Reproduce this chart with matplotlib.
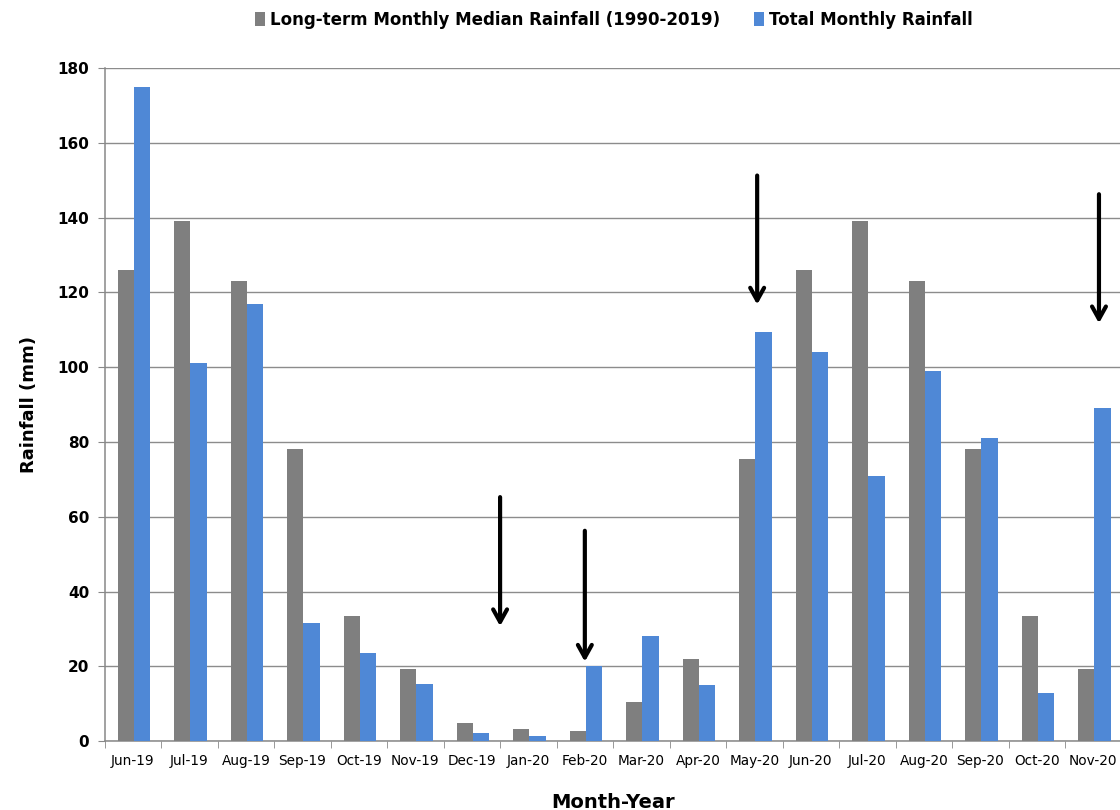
import numpy as np
import matplotlib
matplotlib.use("Agg")
import matplotlib.pyplot as plt
from matplotlib.ticker import FixedLocator

# data
months = ["Jun-19", "Jul-19", "Aug-19", "Sep-19", "Oct-19", "Nov-19", "Dec-19", "Jan-20", "Feb-20",
          "Mar-20", "Apr-20", "May-20", "Jun-20", "Jul-20", "Aug-20", "Sep-20", "Oct-20", "Nov-20"]
median_rain = [126, 139, 123, 78, 33.4, 19.3, 4.8, 3.2, 2.8, 10.5, 22, 75.5, 126, 139, 123, 78, 33.4, 19.3]
total_rain = [175, 101, 117, 31.5, 23.5, 15.2, 2.3, 1.5, 20, 28, 15, 109.5, 104, 71, 99, 81, 13, 89]
yticks = [0, 20, 40, 60, 80, 100, 120, 140, 160, 180]

# arrows: (x position in category units, tail value, head value)
arrow_x = [6.5, 8, 11.05, 17.1]
arrow_top = [66, 57, 152, 147]
arrow_tip = [30, 20.5, 116, 111]

grey = "#7f7f7f"
blue = "#4f88d6"

fig = plt.figure(figsize=(11.2, 8.1), dpi=100)
ax = fig.add_axes([0.0934, 0.085, 0.908, 0.831])

x = np.arange(len(months))
w = 0.29
ax.bar(x - w / 2 + 0.02, median_rain, w, color=grey, label="Long-term Monthly Median Rainfall (1990-2019)", zorder=3)
ax.bar(x + w / 2 + 0.02, total_rain, w, color=blue, label="Total Monthly Rainfall", zorder=3)

for xa, yt, yh in zip(arrow_x, arrow_top, arrow_tip):
    ax.annotate("", xy=(xa, yh), xytext=(xa, yt),
                arrowprops=dict(arrowstyle="->,head_length=0.9,head_width=0.5", color="black", lw=3),
                zorder=5)

ax.set_xlim(-0.5, 17.5)
ax.set_ylim(0, 180)
ax.set_yticks(yticks)
ax.yaxis.grid(True, color="#8c8c8c", lw=1.0, zorder=0)
ax.set_axisbelow(True)

ax.set_xticks(x)
ax.set_xticklabels(months, fontsize=9.8)
ax.xaxis.set_minor_locator(FixedLocator(np.arange(-0.5, 18, 1)))
ax.tick_params(axis="x", which="major", length=0, pad=9)
ax.tick_params(axis="x", which="minor", length=5, color="#888888")
ax.tick_params(axis="y", length=5, color="#888888", pad=6)
for lab in ax.get_yticklabels():
    lab.set_fontweight("bold")
    lab.set_fontsize(11)

for side in ["top", "right"]:
    ax.spines[side].set_visible(False)
for side in ["left", "bottom"]:
    ax.spines[side].set_color("#888888")
    ax.spines[side].set_linewidth(1.1)

ax.set_ylabel("Rainfall (mm)", fontsize=13, fontweight="bold", labelpad=14)
ax.set_xlabel("Month-Year", fontsize=14, fontweight="bold", labelpad=18)

leg = fig.legend(loc="upper center", ncol=2, bbox_to_anchor=(0.548, 1.005), frameon=False,
                 handlelength=0.6, handleheight=0.9, handletextpad=0.3, columnspacing=2.0,
                 prop={"weight": "bold", "size": 12})

fig.savefig("out.png", dpi=100)
